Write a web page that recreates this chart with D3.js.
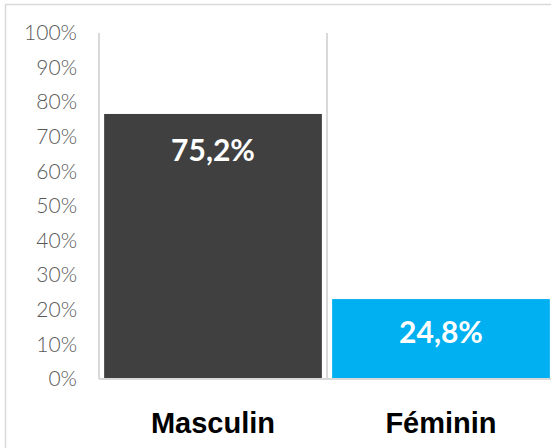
<!DOCTYPE html>
<html>
<head>
<meta charset="utf-8">
<script src="https://cdn.jsdelivr.net/npm/d3@7"></script>
<style>
  html, body { margin: 0; padding: 0; background: #fff; }
  svg { display: block; }
</style>
</head>
<body>
<div id="main"></div>
<script>
const categories = ["Masculin", "Féminin"];
const barValues = [76.6, 23.1];
const valueLabels = ["75,2%", "24,8%"];
const barColors = ["#404040", "#00B0F0"];
const yTicks = [0, 10, 20, 30, 40, 50, 60, 70, 80, 90, 100];

const width = 551;
const height = 448;
const margin = { top: 33, right: -4, bottom: 69, left: 99 };

const svg = d3.select("#main").append("svg")
  .attr("width", width)
  .attr("height", height);

// outer frame of the chart area
svg.append("rect")
  .attr("x", 5.5)
  .attr("y", 4.5)
  .attr("width", 560)
  .attr("height", 460)
  .attr("fill", "none")
  .attr("stroke", "#d9d9d9")
  .attr("stroke-width", 1.5);

const x = d3.scaleBand()
  .domain(categories)
  .range([margin.left, width - margin.right])
  .paddingInner(0.045)
  .paddingOuter(0.0225);

const y = d3.scaleLinear()
  .domain([0, 100])
  .range([height - margin.bottom, margin.top]);

const step = x.step();

// category separators
const seps = categories.map(c => x(c) - step * x.paddingInner() / 2 - (c === categories[0] ? step * (x.paddingOuter() - x.paddingInner() / 2) : 0));
svg.append("g")
  .selectAll("line")
  .data(seps)
  .join("line")
  .attr("x1", d => d)
  .attr("x2", d => d)
  .attr("y1", y(100))
  .attr("y2", y(0))
  .attr("stroke", "#d9d9d9")
  .attr("stroke-width", 2);

// bars
svg.append("g")
  .selectAll("rect")
  .data(categories)
  .join("rect")
  .attr("x", d => x(d))
  .attr("width", x.bandwidth())
  .attr("y", (d, i) => y(barValues[i]))
  .attr("height", (d, i) => y(0) - y(barValues[i]))
  .attr("fill", (d, i) => barColors[i]);

// baseline
svg.append("line")
  .attr("x1", margin.left)
  .attr("x2", width)
  .attr("y1", y(0))
  .attr("y2", y(0))
  .attr("stroke", "#d9d9d9")
  .attr("stroke-width", 2);

// y axis labels
const yAxis = d3.axisLeft(y)
  .tickValues(yTicks)
  .tickFormat(d => d + "%")
  .tickSize(0)
  .tickPadding(22);

const gy = svg.append("g")
  .attr("transform", `translate(${margin.left},0)`)
  .call(yAxis);
gy.select(".domain").remove();
gy.selectAll("text")
  .attr("font-family", "Lato, 'Open Sans', sans-serif")
  .attr("font-weight", 300)
  .attr("font-size", 21)
  .attr("fill", "#595959");

// value labels
const barLabelY = [150, 332];
svg.append("g")
  .selectAll("text")
  .data(categories)
  .join("text")
  .attr("x", d => x(d) + step / 2 - step * x.paddingInner() / 2)
  .attr("y", (d, i) => barLabelY[i])
  .attr("dy", "0.35em")
  .attr("text-anchor", "middle")
  .attr("font-family", "Lato, Roboto, sans-serif")
  .attr("font-weight", "bold")
  .attr("font-size", 30)
  .attr("fill", "#ffffff")
  .text((d, i) => valueLabels[i]);

// category labels
svg.append("g")
  .selectAll("text")
  .data(categories)
  .join("text")
  .attr("x", d => x(d) + x.bandwidth() / 2)
  .attr("y", 433)
  .attr("text-anchor", "middle")
  .attr("font-family", "'Liberation Sans', Arial, sans-serif")
  .attr("font-weight", "bold")
  .attr("font-size", 29)
  .attr("fill", "#000000")
  .text(d => d);
</script>
</body>
</html>
